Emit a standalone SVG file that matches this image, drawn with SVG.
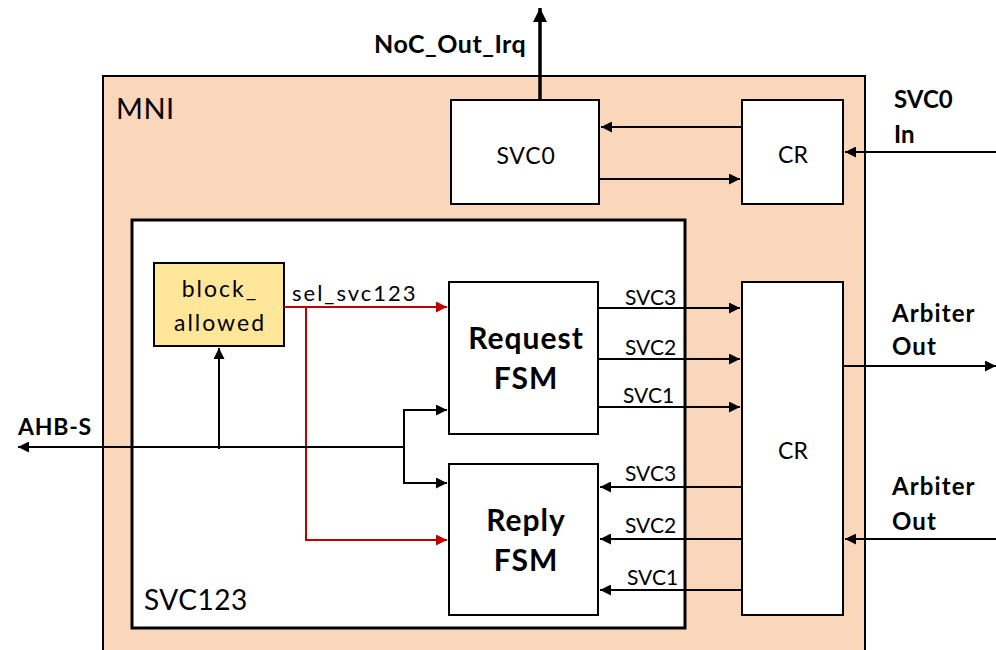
<svg xmlns="http://www.w3.org/2000/svg" width="996" height="650" viewBox="0 0 996 650">
<style>
.box{fill:#fff;stroke:#000;stroke-width:2}
.t{font-family:Lato,"Liberation Sans",sans-serif;fill:#000}
.b{font-family:Lato,"Liberation Sans",sans-serif;font-weight:bold;fill:#000}
.ln{fill:none;stroke:#000;stroke-width:2}
.red{fill:none;stroke:#C00000;stroke-width:2}
</style>
<defs>
<marker id="ah" viewBox="0 0 10 10" refX="10" refY="5" markerWidth="5.5" markerHeight="5.5" markerUnits="strokeWidth" orient="auto"><path d="M0,0 L10,5 L0,10 z" fill="#000"/></marker>
<marker id="ahr" viewBox="0 0 10 10" refX="10" refY="5" markerWidth="5.5" markerHeight="5.5" markerUnits="strokeWidth" orient="auto"><path d="M0,0 L10,5 L0,10 z" fill="#C00000"/></marker>
<marker id="ahb" viewBox="0 0 10 10" refX="10" refY="5" markerWidth="4" markerHeight="4" markerUnits="strokeWidth" orient="auto"><path d="M0,0 L10,5 L0,10 z" fill="#000"/></marker>
</defs>
<rect width="996" height="650" fill="#fff"/>
<g id="MNI">
<rect x="103" y="76" width="762" height="590" fill="#FAD7BB" stroke="#000" stroke-width="2"/>
<text class="t" x="116" y="119" font-size="29" letter-spacing="0.5">MNI</text>
</g>
<g id="SVC123">
<rect x="132" y="220" width="553" height="408" fill="#fff" stroke="#000" stroke-width="3"/>
<text class="t" x="144" y="610" font-size="28" letter-spacing="0.5">SVC123</text>
</g>
<g id="SVC0">
<rect class="box" x="451" y="100" width="148" height="104"/>
<text class="t" x="526" y="164" font-size="23" letter-spacing="0.8" text-anchor="middle">SVC0</text>
</g>
<g id="CR_top">
<rect class="box" x="742" y="100" width="101" height="104"/>
<text class="t" x="793" y="163" font-size="23" text-anchor="middle">CR</text>
</g>
<g id="block_allowed">
<rect x="154" y="263" width="130" height="83" fill="#FFE699" stroke="#000" stroke-width="2"/>
<text class="t" x="220" y="297" font-size="23" letter-spacing="2" text-anchor="middle">block_</text>
<text class="t" x="220" y="331" font-size="23" letter-spacing="2" text-anchor="middle">allowed</text>
</g>
<g id="RequestFSM">
<rect class="box" x="449" y="282" width="149" height="152"/>
<text class="b" x="526" y="349" font-size="30" letter-spacing="1" text-anchor="middle">Request</text>
<text class="b" x="526" y="389" font-size="30" letter-spacing="1" text-anchor="middle">FSM</text>
</g>
<g id="ReplyFSM">
<rect class="box" x="449" y="464" width="149" height="151"/>
<text class="b" x="526" y="531" font-size="30" letter-spacing="1" text-anchor="middle">Reply</text>
<text class="b" x="526" y="571" font-size="30" letter-spacing="1" text-anchor="middle">FSM</text>
</g>
<g id="CR_main">
<rect class="box" x="742" y="282" width="101" height="333"/>
<text class="t" x="793" y="459" font-size="23" text-anchor="middle">CR</text>
</g>
<g id="connectors">
<path d="M540,100 V8" fill="none" stroke="#000" stroke-width="3.5" marker-end="url(#ahb)"/>
<path class="ln" d="M742,127 H601" marker-end="url(#ah)"/>
<path class="ln" d="M599,179 H740" marker-end="url(#ah)"/>
<path class="ln" d="M996,152 H845" marker-end="url(#ah)"/>
<path class="red" d="M284,307 H447" marker-end="url(#ahr)"/>
<path class="red" d="M306,307 V540 H447" marker-end="url(#ahr)"/>
<path class="ln" d="M404,447 H18" marker-end="url(#ah)"/>
<path class="ln" d="M219,449 V348" marker-end="url(#ah)"/>
<path class="ln" d="M404,447 V410 H447" marker-end="url(#ah)"/>
<path class="ln" d="M404,447 V483 H447" marker-end="url(#ah)"/>
<path class="ln" d="M598,308 H740" marker-end="url(#ah)"/>
<path class="ln" d="M598,359 H740" marker-end="url(#ah)"/>
<path class="ln" d="M598,407 H740" marker-end="url(#ah)"/>
<path class="ln" d="M742,487 H600" marker-end="url(#ah)"/>
<path class="ln" d="M742,539 H600" marker-end="url(#ah)"/>
<path class="ln" d="M742,590 H600" marker-end="url(#ah)"/>
<path class="ln" d="M843,366 H996" marker-end="url(#ah)"/>
<path class="ln" d="M996,539 H845" marker-end="url(#ah)"/>
</g>
<g id="labels">
<text class="b" x="374" y="53" font-size="25" letter-spacing="0.5">NoC_Out_Irq</text>
<text class="b" x="894" y="108" font-size="24">SVC0</text>
<text class="b" x="894" y="143" font-size="24">In</text>
<text class="b" x="892" y="322" font-size="24" letter-spacing="1.1">Arbiter</text>
<text class="b" x="892" y="355" font-size="24" letter-spacing="1.1">Out</text>
<text class="b" x="892" y="495" font-size="24" letter-spacing="1.1">Arbiter</text>
<text class="b" x="892" y="530" font-size="24" letter-spacing="1.1">Out</text>
<text class="b" x="18" y="435" font-size="23" letter-spacing="0.8">AHB-S</text>
<text class="t" x="292" y="301" font-size="22" letter-spacing="2">sel_svc123</text>
<text class="t" x="625" y="305" font-size="21">SVC3</text>
<text class="t" x="625" y="355" font-size="21">SVC2</text>
<text class="t" x="623" y="403" font-size="21">SVC1</text>
<text class="t" x="625" y="481" font-size="21">SVC3</text>
<text class="t" x="625" y="533" font-size="21">SVC2</text>
<text class="t" x="627" y="585" font-size="21">SVC1</text>
</g>
</svg>
